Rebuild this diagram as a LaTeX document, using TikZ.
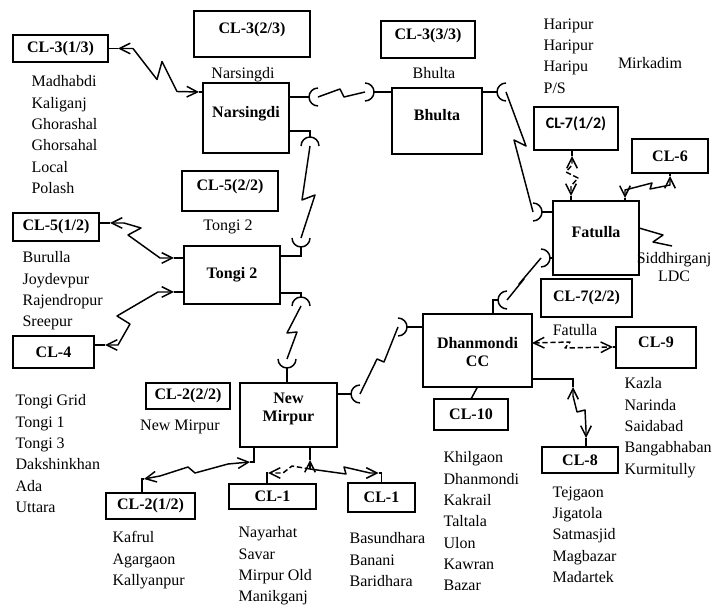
\documentclass[tikz,border=0pt]{standalone}
\usepackage{fontspec}
\setmainfont{Liberation Serif}
\newfontfamily\calibri{Carlito}
\usepackage{tikz}
\usetikzlibrary{
    arrows.meta,
    positioning,
    calc
}
\tikzstyle{clbox} = [draw, rectangle, line width=1.5pt, inner sep=0, outer sep=0, font=\fontsize{12}{13.5}\selectfont\bfseries]
\tikzstyle{hub} = [clbox]
\tikzstyle{toptext} = [text height=9pt, text depth=9pt]
\tikzstyle{places} = [align=left, anchor=north west, inner sep=1pt, font=\fontsize{12}{16}\selectfont]
\tikzstyle{boxcap} = [inner sep=1pt, font=\fontsize{12}{13.5}\selectfont]
\tikzstyle{stub} = [line width=1.1pt]
\tikzstyle{link} = [line width=1.1pt, line join=round, >={Straight Barb[length=8pt, width=8pt]}]
\tikzstyle{radio} = [link, dash pattern=on 4pt off 2pt]

\begin{document}
\begin{tikzpicture}[x=0.75pt, y=-0.75pt]
    \tikzstyle{clbox} = [draw, rectangle, line width=1.5pt, inner sep=0, outer sep=0, font=\fontsize{12}{13.5}\selectfont\bfseries]
    \tikzstyle{hub} = [clbox]
    \tikzstyle{toptext} = [text height=9pt, text depth=9pt]
    \tikzstyle{places} = [align=left, anchor=north west, inner sep=1pt, font=\fontsize{12}{16}\selectfont]
    \tikzstyle{boxcap} = [inner sep=1pt, font=\fontsize{12}{13.5}\selectfont]
    \tikzstyle{stub} = [line width=1.1pt]
    \tikzstyle{link} = [line width=1.1pt, line join=round, >={Straight Barb[length=8pt, width=8pt]}]
    \tikzstyle{radio} = [link, dash pattern=on 4pt off 2pt]

    \useasboundingbox (0,0) rectangle (713,605);

    \node[clbox, minimum width=71.25pt, minimum height=20.25pt] (CL31) at (60.5,48.5) {CL-3(1/3)};
    \node[clbox, toptext, minimum width=87pt, minimum height=34.5pt] (CL32) at (252,34) {CL-3(2/3)\hspace{15pt}};
    \node[clbox, toptext, minimum width=70.5pt, minimum height=27.75pt] (CL33) at (428,39.5) {CL-3(3/3)};
    \node[hub, toptext, minimum width=64.5pt, minimum height=52.5pt] (Narsingdi) at (246,118) {Narsingdi};
    \node[hub, toptext, minimum width=67.5pt, minimum height=49.5pt] (Bhulta) at (437,121) {Bhulta};
    \node[clbox, toptext, minimum width=63pt, minimum height=32.25pt, font=\fontsize{12}{13.5}\selectfont\calibri\bfseries] (CL71) at (576,128.5) {CL-7(1/2)};
    \node[clbox, minimum width=57pt, minimum height=25.5pt] (CL6) at (670,156) {CL-6};
    \node[hub, toptext, minimum width=64.5pt, minimum height=55.5pt] (Fatulla) at (596,238) {Fatulla};
    \node[clbox, minimum width=68.25pt, minimum height=28.5pt] (CL72) at (586.5,298) {CL-7(2/2)};
    \node[clbox, toptext, minimum width=72pt, minimum height=30pt] (CL52) at (230,191) {CL-5(2/2)};
    \node[clbox, minimum width=64.5pt, minimum height=21pt] (CL51) at (56,227) {CL-5(1/2)};
    \node[hub, minimum width=72pt, minimum height=43.5pt] (Tongi2) at (232,275) {Tongi 2};
    \node[clbox, minimum width=60.75pt, minimum height=24pt] (CL4) at (53.5,352) {CL-4};
    \node[clbox, minimum width=63pt, minimum height=19.5pt] (CL22) at (188,396) {CL-2(2/2)};
    \node[hub, text height=9pt, text depth=26.6pt, minimum width=72.75pt, minimum height=48pt] (NewMirpur) at (288.5,415) {\begin{tabular}[t]{@{}c@{}}New\\Mirpur\end{tabular}};
    \node[hub, text height=9pt, text depth=12.3pt, minimum width=81.75pt, minimum height=54.75pt] (Dhanmondi) at (477.5,350.5) {\begin{tabular}[t]{@{}c@{}}Dhanmondi\\CC\end{tabular}};
    \node[clbox, toptext, minimum width=60pt, minimum height=30.75pt] (CL9) at (656,347.5) {CL-9};
    \node[clbox, minimum width=55.5pt, minimum height=23.25pt] (CL10) at (471,414.5) {CL-10};
    \node[clbox, minimum width=57pt, minimum height=19.5pt] (CL8) at (580,460) {CL-8};
    \node[clbox, minimum width=66.75pt, minimum height=19.5pt] (CL21) at (150.5,506) {CL-2(1/2)};
    \node[clbox, minimum width=65.25pt, minimum height=18.75pt] (CL1a) at (272.5,496.5) {CL-1};
    \node[clbox, minimum width=50.25pt, minimum height=21.75pt] (CL1b) at (381.5,497.5) {CL-1};

    \node[boxcap] (narsingdiname) [below=6.75pt of CL32, xshift=-6.75pt] {Narsingdi};
    \node[boxcap] (bhultaname) [below=6pt of CL33, xshift=4.5pt] {Bhulta};
    \node[boxcap] (tonginame) [below=5.25pt of CL52, xshift=-1.5pt] {Tongi 2};
    \node[boxcap] (mirpurname) [below=6.75pt of CL22, xshift=-6pt] {New Mirpur};
    \node[boxcap] (fatullaname) at (575,330) {Fatulla};
    \node[boxcap] (mirkadim) at (650,63) {Mirkadim};
    \node[boxcap, align=center] (siddhirganj) at (674,267) {Siddhirganj\\LDC};

    \node[places] (cl31names) at (30,74) {Madhabdi\\Kaliganj\\Ghorashal\\Ghorsahal\\Local\\Polash};
    \node[places] (cl51names) at (21,250) {Burulla\\Joydevpur\\Rajendropur\\Sreepur};
    \node[places] (cl4names) at (14,393) {Tongi Grid\\Tongi 1\\Tongi 3\\Dakshinkhan\\Ada\\Uttara};
    \node[places] (cl21names) at (111,530) {Kafrul\\Agargaon\\Kallyanpur};
    \node[places] (cl1anames) at (237,525) {Nayarhat\\Savar\\Mirpur Old\\Manikganj};
    \node[places] (cl1bnames) at (348,531) {Basundhara\\Banani\\Baridhara};
    \node[places] (cl10names) at (442,450) {Khilgaon\\Dhanmondi\\Kakrail\\Taltala\\Ulon\\Kawran\\Bazar};
    \node[places] (cl8names) at (551,485) {Tejgaon\\Jigatola\\Satmasjid\\Magbazar\\Madartek};
    \node[places] (cl9names) at (623,376) {Kazla\\Narinda\\Saidabad\\Bangabhaban\\Kurmitully};
    \node[places] (cl7names) at (542,17) {Haripur\\Haripur\\Haripu\\P/S};

    \coordinate (nb1) at ($(Narsingdi.north east)+(29,14)$);
    \coordinate (nb2) at ($(Bhulta.north west)+(-27,4)$);
    \coordinate (nt1) at ($(Narsingdi.north east)+(21,63)$);
    \coordinate (nt2) at ($(Tongi2.north east)+(21,-8)$);
    \coordinate (tn1) at ($(Tongi2.north east)+(21,60)$);
    \coordinate (tn2) at ($(NewMirpur.north west)+(47,-24)$);
    \coordinate (nd1) at ($(NewMirpur.north east)+(23,11)$);
    \coordinate (nd2) at ($(Dhanmondi.north west)+(-25,13)$);
    \coordinate (df1) at ($(Dhanmondi.north west)+(84,-14)$);
    \coordinate (df2) at ($(Fatulla.north west)+(-12,57)$);
    \coordinate (bf1) at ($(Bhulta.north east)+(24,4)$);
    \coordinate (bf2) at ($(Fatulla.north west)+(-20,11)$);

    \draw[stub] (Narsingdi.east |- nb1) -- ++(20,0);
    \draw[stub] (Bhulta.west |- nb2) -- ++(-18,0);
    \draw[stub] ($(Narsingdi.north east)+(0,48)$) -| ($(nt1)+(0,-9)$);
    \draw[stub] ($(Tongi2.north east)+(0,10)$) -| ($(nt2)+(0,9)$);
    \draw[stub] ($(Tongi2.north east)+(0,47)$) -| ($(tn1)+(0,-9)$);
    \draw[stub] ($(tn2)+(0,9)$) -- (tn2 |- NewMirpur.north);
    \draw[stub] (NewMirpur.east |- nd1) -- ++(14,0);
    \draw[stub] (Dhanmondi.west |- nd2) -- ++(-16,0);
    \draw[stub] ($(Dhanmondi.north west)+(70,0)$) |- ($(df1)+(-9,0)$);
    \draw[stub] ($(df2)+(9,0)$) -- (Fatulla.west |- df2);
    \draw[stub] (Bhulta.east |- bf1) -- ++(15,0);
    \draw[stub] ($(bf2)+(9,0)$) -- (Fatulla.west |- bf2);

    \draw[link] (nb1) -- ++(22,-8) -- ++(4,8) -- (nb2);
    \draw[link] (nt1) -- ++(-8,54) -- ++(13,-5) -- (nt2);
    \draw[link] (tn1) -- ++(-14,27) -- ++(10,-1) -- (tn2);
    \draw[link] (nd1) -- ++(17,-35) -- ++(7,3) -- (nd2);
    \draw[link] (df1) -- ++(17,-21) -- ++(-5,5) -- (df2);
    \draw[link] (bf1) -- ++(20,54) -- ++(-12,-6) -- (bf2);

    \foreach \c / \d in {nb1/0, nb2/180, nt1/90, nt2/270, tn1/90, tn2/270, nd1/0, nd2/180, df1/0, df2/180, bf1/0, bf2/180}{
    \draw[link] (\c) ++({\d+90}:9) arc ({\d+90}:{\d+270}:9);
    }

    \draw[stub] (CL31.east) -- ++(10,0) coordinate (cn1);
    \draw[stub] ($(Narsingdi.north west)+(0,9)$) -- ++(-4,0) coordinate (cn2);
    \draw[link, <->] (cn1) -- ++(15,0) -- ++(24,31) -- ++(5,-18) -- ++(15,30) -- (cn2);

    \draw[stub] ($(CL51.east)+(0,-4)$) -- ++(11,0) coordinate (ct1);
    \draw[stub] ($(Tongi2.north west)+(0,12)$) -- ++(-10,0) coordinate (ct2);
    \draw[link, <->] (ct1) -- ++(14,0) -- ++(17,5) -- ++(-13,7) -- ++(32,23) -- (ct2);

    \draw[stub] ($(CL4.east)+(0,-7)$) -- ++(11,0) coordinate (ct3);
    \draw[stub] ($(Tongi2.south west)+(0,-12)$) -- ++(-10,0) coordinate (ct4);
    \draw[link, <->] (ct3) -- ++(13,0) -- ++(12,-21) -- ++(-13,-8) -- ++(41,-24) -- (ct4);

    \draw[stub] ($(CL71.south)+(-4,0)$) -- ++(0,6) coordinate (cf1);
    \draw[stub] ($(Fatulla.north west)+(18,0)$) -- ++(0,-5) coordinate (cf2);
    \draw[radio, <->] (cf1) -- ++(0,9) -- ++(-6,7) -- ++(12,6) -- ++(-7,8) -- (cf2);

    \draw[stub] ($(Fatulla.north east)+(-14,0)$) -- ++(0,-3) coordinate (cf3);
    \draw[stub] (CL6.south) -- ++(0,3) coordinate (cf4);
    \draw[link, <->] (cf3) -- ++(0,-8) -- ++(27,-7) -- ++(-2,6) -- ++(20,-4) -- (cf4);

    \draw[stub] ($(CL9.west)+(0,-0.5)$) -- ++(-3,0) coordinate (cd2);
    \draw[radio, <->] ($(Dhanmondi.north east)+(0,29)$) -- ++(38,-1) -- ++(-5,6) -- (cd2);

    \draw[stub] ($(Dhanmondi.south east)+(0,-8)$) -| ++(41,8) coordinate (cd3);
    \draw[stub] ($(CL8.north)+(6,0)$) -- ++(0,-9) coordinate (cd4);
    \draw[link, <->] (cd3) -- ++(0,9) -- ++(4,16) -- ++(8,-2) -- ++(1,20) -- (cd4);

    \draw[stub] (Dhanmondi.south) -- (CL10.north);

    \draw[stub] ($(NewMirpur.south west)+(14,0)$) |- ++(-4,15) coordinate (cm1);
    \draw[stub] ($(CL21.north)+(-8.5,0)$) |- ++(2,-14) coordinate (cm2);
    \draw[link, <->] (cm2) -- ++(16,-3) -- ++(28,-9) -- ++(7,6) -- ++(33,-9) -- (cm1);

    \draw[stub] ($(NewMirpur.south)+(21.5,0)$) -- ++(0,13) coordinate (cm3);
    \draw[link, ->] ($(cm3)+(0,9)$) coordinate (cm4) -- (cm3);
    \draw[stub] ($(CL1a.north)+(-5.5,0)$) |- ++(1,-11) coordinate (cm5);
    \draw[radio, ->] (cm4) -- ++(-18,-3) -- ++(-9,7) -- (cm5);
    \draw[stub] (CL1b.north) |- ++(-3,-10) coordinate (cm6);
    \draw[link, ->] (cm4) -- ++(36,5) -- ++(-2,-7) -- ++(26,6) -- (cm6);

    \draw[link] ($(Fatulla.east)+(0,-10)$) -- ++(24,7) -- ++(-10,7) -- ++(19,4) coordinate (ldc);
\end{tikzpicture}
\end{document}
